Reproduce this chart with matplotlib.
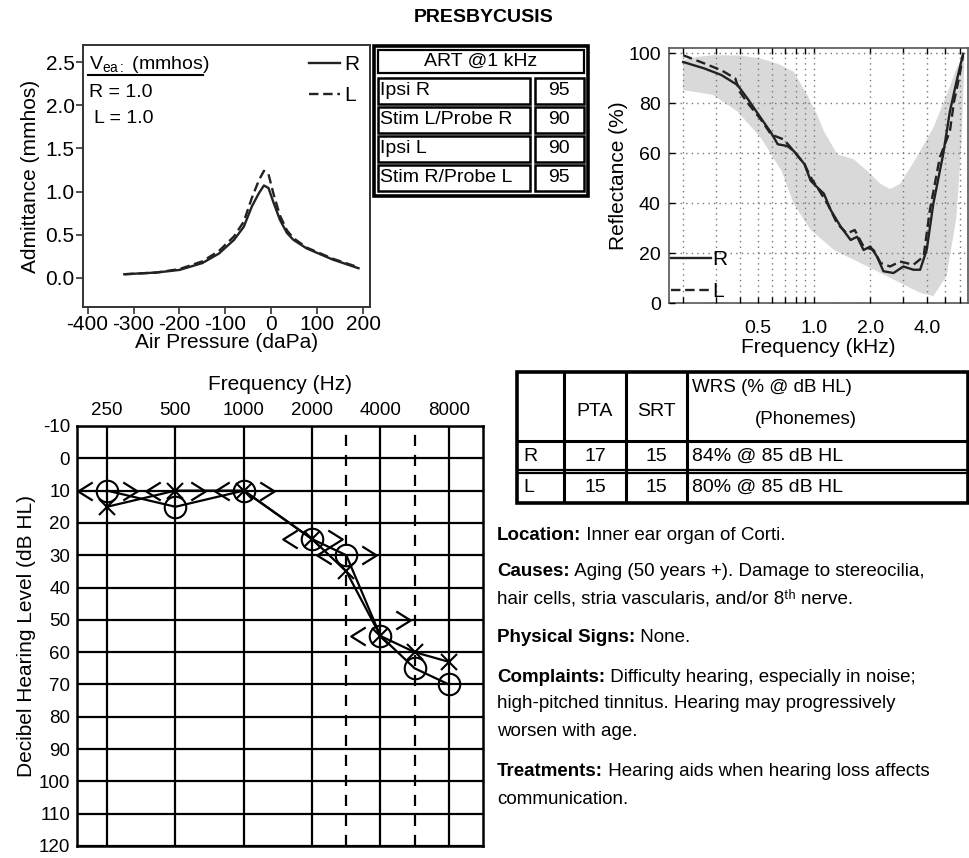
import numpy as np
import matplotlib
matplotlib.use("Agg")
import matplotlib.pyplot as plt
from matplotlib.path import Path
from matplotlib.patches import Rectangle
from matplotlib.text import Annotation
from matplotlib.ticker import FixedLocator, NullFormatter
from matplotlib.transforms import ScaledTranslation

plt.rcParams['font.family'] = ['Liberation Sans', 'DejaVu Sans']
plt.rcParams['axes.unicode_minus'] = False
plt.rcParams['mathtext.fontset'] = 'custom'
plt.rcParams['mathtext.rm'] = 'Liberation Sans'
plt.rcParams['mathtext.it'] = 'Liberation Sans:italic'
plt.rcParams['mathtext.bf'] = 'Liberation Sans:bold'

# --- tympanogram (admittance vs pressure) ---
tymp_pressure = [-320, -250, -200, -150, -114, -81, -60, -42, -27, -16, -6, 5, 19, 34, 48, 77, 134, 190]
tymp_R = [0.04, 0.06, 0.09, 0.17, 0.28, 0.44, 0.59, 0.83, 0.98, 1.07, 1.04, 0.87, 0.67, 0.52, 0.44, 0.34, 0.21, 0.11]
tymp_L = [0.04, 0.06, 0.10, 0.19, 0.31, 0.48, 0.65, 0.93, 1.13, 1.24, 1.20, 0.97, 0.72, 0.55, 0.46, 0.35, 0.22, 0.12]

# --- acoustic reflex thresholds ---
art_labels = ["Ipsi R", "Stim L/Probe R", "Ipsi L", "Stim R/Probe L"]
art_values = ["95", "90", "90", "95"]

# --- wideband reflectance ---
refl_R_khz = [0.20, 0.26, 0.32, 0.39, 0.44, 0.52, 0.59, 0.64, 0.72, 0.78, 0.89, 0.96, 1.04, 1.13, 1.23, 1.39,
              1.57, 1.70, 1.84, 2.00, 2.17, 2.35, 2.66, 3.00, 3.40, 3.69, 4.00, 4.34, 4.90, 5.32, 5.77, 6.26]
refl_R = [96.4, 93.8, 91.2, 87.2, 81.9, 74.0, 68.1, 63.5, 62.8, 60.8, 55.5, 48.9, 46.3, 43.7, 37.1, 30.5,
          25.2, 26.5, 21.2, 22.6, 18.6, 12.7, 12.0, 14.6, 13.3, 13.3, 21.2, 39.7, 59.5, 76.6, 88.5, 99.7]
refl_L_khz = [0.20, 0.26, 0.32, 0.38, 0.40, 0.45, 0.52, 0.59, 0.69, 0.78, 0.89, 0.96, 1.04, 1.18, 1.33, 1.50,
              1.65, 1.84, 2.08, 2.27, 2.55, 2.88, 3.40, 3.85, 4.16, 4.70, 5.32, 5.60, 5.95, 6.26]
refl_L = [99.1, 95.8, 93.1, 89.8, 84.6, 79.3, 73.4, 67.4, 65.4, 60.8, 55.5, 50.3, 46.3, 39.7, 31.8, 27.8,
          29.2, 22.6, 21.2, 16.0, 14.6, 16.6, 15.3, 18.6, 37.1, 58.2, 68.7, 80.6, 89.8, 99.1]
norm_upper_khz = [0.20, 0.24, 0.29, 0.40, 0.52, 0.65, 0.78, 0.92, 1.04, 1.13, 1.33, 1.63, 1.92, 2.27, 2.55,
                  2.88, 3.53, 4.34, 5.11, 5.77, 6.38]
norm_upper = [97.1, 98.5, 99.1, 99.0, 97.8, 95.5, 92.5, 83.2, 75.3, 68.7, 59.5, 57.5, 52.9, 47.6, 45.6,
              47.6, 58.2, 70.1, 83.2, 93.8, 99.1]
norm_lower_khz = [0.20, 0.29, 0.39, 0.52, 0.67, 0.78, 0.96, 1.28, 1.77, 2.66, 3.69, 4.34, 5.11, 5.77, 6.13, 6.38]
norm_lower = [85.2, 83.2, 76.6, 66.1, 52.9, 39.7, 29.2, 21.2, 16.0, 9.4, 4.1, 2.8, 10.7, 34.4, 63.5, 99.1]

# --- audiogram ---
aud_freqs = [250, 500, 1000, 2000, 3000, 4000, 6000, 8000]
aud_R = [10, 15, 10, 25, 30, 55, 65, 70]          # O, right air
aud_L = [15, 10, 10, 25, 35, 55, 60, 63]          # X, left air
bc_freqs = [250, 500, 1000, 2000, 3000, 4000]
bc_R = [10, 10, 10, 25, 30, 55]                   # <
bc_L = [10, 10, 10, 25, 30, 50]                   # >
octave_freqs = [250, 500, 1000, 2000, 4000, 8000]
interoctave_freqs = [3000, 6000]

# --- speech table ---
wrs_header = ["", "PTA", "SRT"]
wrs_rows = [["R", "17", "15", "84% @ 85 dB HL"],
            ["L", "15", "15", "80% @ 85 dB HL"]]

W, H = 969, 858
fig = plt.figure(figsize=(W / 100, H / 100), dpi=100)


def box(l, t, r, b):
    return [l / W, 1 - b / H, (r - l) / W, (b - t) / H]


fig.text(484 / W, 1 - 18 / H, "PRESBYCUSIS", ha='center', va='center', fontsize=14, fontweight='bold')

# ---------------- tympanogram ----------------
ax1 = fig.add_axes(box(83, 45, 370, 307))
ax1.plot(tymp_pressure, tymp_R, color='#222222', lw=1.7, label='R')
ax1.plot(tymp_pressure, tymp_L, color='#222222', lw=1.7, ls=(0, (4, 2)), label='L')
ax1.set_xlim(-410, 215)
ax1.set_ylim(-0.34, 2.70)
ax1.set_xticks([-400, -300, -200, -100, 0, 100, 200])
ax1.set_yticks([0, 0.5, 1.0, 1.5, 2.0, 2.5])
ax1.set_yticklabels(["%.1f" % v for v in [0, 0.5, 1.0, 1.5, 2.0, 2.5]])
ax1.tick_params(labelsize=15, length=5, width=1.2, pad=1, color='#333333')
ax1.set_xlabel("Air Pressure (daPa)", fontsize=15, labelpad=-1)
ax1.set_ylabel("Admittance (mmhos)", fontsize=15, labelpad=4)
for s in ax1.spines.values():
    s.set_linewidth(1.4)
    s.set_color('#333333')
ax1.text(0.02, 0.925, r"$\mathrm{V_{ea:}}$ (mmhos)", transform=ax1.transAxes, fontsize=14, va='center')
ax1.plot([0.017, 0.418], [0.885, 0.885], transform=ax1.transAxes, color='black', lw=1.5)
ax1.text(0.02, 0.82, "R = 1.0", transform=ax1.transAxes, fontsize=14, va='center')
ax1.text(0.04, 0.72, "L = 1.0", transform=ax1.transAxes, fontsize=14, va='center')
ax1.legend(loc='upper right', frameon=False, fontsize=15, handlelength=1.5, handletextpad=0.2,
           borderaxespad=0.1, labelspacing=0.55)

# ---------------- ART table ----------------
axt = fig.add_axes(box(374, 46, 588, 196))
axt.set_xlim(0, 1)
axt.set_ylim(1, 0)
axt.axis('off')
axt.add_patch(Rectangle((0, 0), 1, 1, fill=False, lw=2.6, ec='black', clip_on=False))
axt.add_patch(Rectangle((0.02, 0.025), 0.96, 0.155, fill=False, lw=1.6, ec='black'))
axt.text(0.5, 0.105, "ART @1 kHz", ha='center', va='center', fontsize=14)
row_h = (0.975 - 0.20) / len(art_labels)
for i, (lab, val) in enumerate(zip(art_labels, art_values)):
    y0 = 0.20 + i * row_h
    axt.add_patch(Rectangle((0.02, y0 + 0.01), 0.71, row_h - 0.02, fill=False, lw=1.8, ec='black'))
    axt.add_patch(Rectangle((0.75, y0 + 0.01), 0.23, row_h - 0.02, fill=False, lw=1.8, ec='black'))
    axt.text(0.03, y0 + row_h / 2, lab, ha='left', va='center', fontsize=14)
    axt.text(0.865, y0 + row_h / 2, val, ha='center', va='center', fontsize=14)

# ---------------- reflectance ----------------
ax2 = fig.add_axes(box(669, 48, 968, 303))
band_x = np.concatenate([norm_upper_khz, norm_lower_khz[::-1]])
band_y = np.concatenate([norm_upper, norm_lower[::-1]])
ax2.fill(band_x, band_y, color='#d9d9d9', lw=0, zorder=1)
ax2.set_xscale('log')
ax2.set_xlim(0.168, 6.65)
ax2.set_ylim(0, 102)
minor = [0.2, 0.3, 0.4, 0.6, 0.7, 0.8, 0.9, 3, 5, 6]
ax2.xaxis.set_major_locator(FixedLocator([0.5, 1.0, 2.0, 4.0]))
ax2.xaxis.set_minor_locator(FixedLocator(minor))
ax2.xaxis.set_minor_formatter(NullFormatter())
ax2.set_xticklabels(["0.5", "1.0", "2.0", "4.0"])
ax2.set_yticks([0, 20, 40, 60, 80, 100])
ax2.grid(True, which='both', ls=(0, (1, 3)), color='#777777', lw=1.0, zorder=2)
ax2.set_axisbelow(False)
ax2.plot(refl_R_khz, refl_R, color='#222222', lw=1.7, zorder=3, label='R')
ax2.plot(refl_L_khz, refl_L, color='#222222', lw=1.7, ls=(0, (4, 2)), zorder=3, label='L')
ax2.tick_params(which='both', direction='in', top=True, length=4, width=1, labelsize=14)
ax2.tick_params(axis='x', pad=12)
ax2.tick_params(axis='y', pad=6)
ax2.set_xlabel("Frequency (kHz)", fontsize=15, labelpad=1)
ax2.set_ylabel("Reflectance (%)", fontsize=15, labelpad=0)
for s in ax2.spines.values():
    s.set_linewidth(1.2)
    s.set_color('#555555')
ax2.legend(loc='lower left', frameon=False, fontsize=15, handlelength=1.9, handletextpad=0.1,
           borderaxespad=0.0, borderpad=0.1, labelspacing=0.6)

# ---------------- audiogram ----------------
aud_nodes = np.array([125, 250, 500, 1000, 2000, 3000, 4000, 6000, 8000, 16000], dtype=float)
aud_slots = np.array([-1, 0, 1, 2, 3, 3.5, 4, 4.5, 5, 6], dtype=float)


def f2slot(f):
    f = np.clip(np.asarray(f, dtype=float), 1e-6, None)
    return np.interp(np.log2(f), np.log2(aud_nodes), aud_slots, left=-1, right=6)


def slot2f(s):
    return 2 ** np.interp(np.asarray(s, dtype=float), aud_slots, np.log2(aud_nodes))


ax3 = fig.add_axes(box(77, 426, 483, 846))
ax3.set_xscale('function', functions=(f2slot, slot2f))
ax3.set_xlim(float(slot2f(-0.44)), float(slot2f(5.5)))
ax3.set_ylim(120, -10)
ax3.set_xticks(octave_freqs)
ax3.set_xticklabels([str(f) for f in octave_freqs])
ax3.xaxis.set_minor_locator(FixedLocator([]))
ax3.set_yticks(range(-10, 121, 10))
ax3.xaxis.tick_top()
ax3.xaxis.set_label_position('top')
ax3.tick_params(length=0, labelsize=13.5, pad=5)
ax3.grid(True, color='black', lw=1.6)
for f in interoctave_freqs:
    ax3.axvline(f, color='black', lw=1.6, ls=(0, (5, 4)))
for s in ax3.spines.values():
    s.set_linewidth(1.8)
ax3.set_xlabel("Frequency (Hz)", fontsize=15, labelpad=9)
ax3.set_ylabel("Decibel Hearing Level (dB HL)", fontsize=15, labelpad=2)

ax3.plot(aud_freqs, aud_R, color='black', lw=1.6, marker='o', ms=15.5, mfc='none', mew=1.5, zorder=4)
ax3.plot(aud_freqs, aud_L, color='black', lw=1.6, marker='x', ms=12, mew=1.5, zorder=4)

lt = Path([(0.4, 0.5), (-0.4, 0.0), (0.4, -0.5)], [Path.MOVETO, Path.LINETO, Path.LINETO])
gt = Path([(-0.4, 0.5), (0.4, 0.0), (-0.4, -0.5)], [Path.MOVETO, Path.LINETO, Path.LINETO])
shift_l = ax3.transData + ScaledTranslation(-0.22, 0, fig.dpi_scale_trans)
shift_r = ax3.transData + ScaledTranslation(0.23, 0, fig.dpi_scale_trans)
ax3.plot(bc_freqs, bc_R, ls='none', marker=lt, ms=13, mfc='none', mec='black', mew=1.6,
         transform=shift_l, zorder=4, clip_on=False)
ax3.plot(bc_freqs, bc_L, ls='none', marker=gt, ms=13, mfc='none', mec='black', mew=1.6,
         transform=shift_r, zorder=4, clip_on=False)

# ---------------- WRS table ----------------
axw = fig.add_axes(box(517, 372, 968, 503))
axw.set_xlim(0, 1)
axw.set_ylim(1, 0)
axw.axis('off')
col_x = [0, 0.104, 0.242, 0.377, 1]
row_y = [0, 0.527, 0.757, 1]
axw.add_patch(Rectangle((0, 0), 1, 1, fill=False, lw=2.6, ec='black', clip_on=False))
for x in col_x[1:-1]:
    axw.plot([x, x], [0, 1], color='black', lw=2.2)
axw.plot([0, 1], [row_y[1], row_y[1]], color='black', lw=2.2)
axw.plot([0, 1], [row_y[2] - 0.012, row_y[2] - 0.012], color='black', lw=1.6)
axw.plot([0, 1], [row_y[2] + 0.012, row_y[2] + 0.012], color='black', lw=1.6)
for j, txt in enumerate(wrs_header):
    axw.text((col_x[j] + col_x[j + 1]) / 2, 0.30, txt, ha='center', va='center', fontsize=14)
axw.text(col_x[3] + 0.012, 0.12, "WRS (% @ dB HL)", ha='left', va='center', fontsize=13.5)
axw.text(0.64, 0.36, "(Phonemes)", ha='center', va='center', fontsize=13.5)
for i, row in enumerate(wrs_rows):
    yc = (row_y[i + 1] + row_y[i + 2]) / 2
    axw.text(0.015, yc, row[0], ha='left', va='center', fontsize=14)
    axw.text((col_x[1] + col_x[2]) / 2, yc, row[1], ha='center', va='center', fontsize=14)
    axw.text((col_x[2] + col_x[3]) / 2, yc, row[2], ha='center', va='center', fontsize=14)
    axw.text(col_x[3] + 0.012, yc, row[3], ha='left', va='center', fontsize=14)

# ---------------- notes ----------------
notes = [
    (535, "Location:", " Inner ear organ of Corti."),
    (572, "Causes:", " Aging (50 years +). Damage to stereocilia,"),
    (599, "", "hair cells, stria vascularis, and/or 8\u1d57\u02b0 nerve."),
    (638, "Physical Signs:", " None."),
    (677, "Complaints:", " Difficulty hearing, especially in noise;"),
    (704, "", "high-pitched tinnitus. Hearing may progressively"),
    (731, "", "worsen with age."),
    (772, "Treatments:", " Hearing aids when hearing loss affects"),
    (800, "", "communication."),
]
for y, bold, rest in notes:
    if bold:
        t = fig.text(497 / W, 1 - y / H, bold, fontsize=13.5, fontweight='bold', va='center', ha='left')
        fig.add_artist(Annotation(rest, xy=(1, 0.5), xycoords=t, va='center', ha='left', fontsize=13.5))
    else:
        fig.text(497 / W, 1 - y / H, rest, fontsize=13.5, va='center', ha='left')

fig.savefig("out.png", dpi=100)
